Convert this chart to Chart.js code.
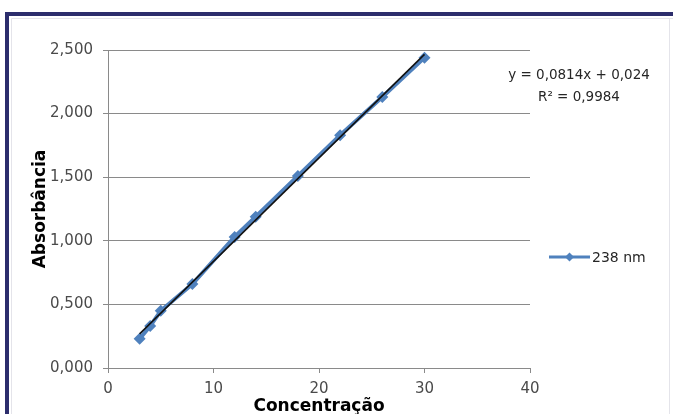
<!DOCTYPE html>
<html>
<head>
<meta charset="utf-8">
<script src="https://cdn.jsdelivr.net/npm/chart.js@4.4.0/dist/chart.umd.min.js"></script>
<style>
  html, body { margin: 0; padding: 0; background: #ffffff; }
  #wrap { width: 673px; height: 414px; position: relative; }
</style>
</head>
<body>
<div id="wrap"><canvas id="c" width="673" height="414"></canvas></div>
<script>
// Calibration curve: absorbance at 238 nm versus concentration
const concentracao = [3, 4, 5, 8, 12, 14, 18, 22, 26, 30];
const absorbancia  = [0.23, 0.33, 0.45, 0.66, 1.03, 1.19, 1.51, 1.83, 2.13, 2.44];
const seriesLabel  = '238 nm';

// Linear trend line reported for the series
const slope = 0.0814;
const intercept = 0.024;
const rSquared = 0.9984;
const trendFrom = 3;
const trendTo = 30;

// Axis ticks
const xTicks = [0, 10, 20, 30, 40];
const yTicks = [0, 0.5, 1.0, 1.5, 2.0, 2.5];

const fmt = (v, d) => v.toFixed(d).replace('.', ',');

const seriesColor = '#4F81BD';
const gridColor = '#8a8a8a';
const tickColor = '#4a4a4a';
Chart.defaults.font.family = "'DejaVu Sans', sans-serif";

const points = concentracao.map((x, i) => ({ x: x, y: absorbancia[i] }));
const trendPoints = [trendFrom, trendTo].map(x => ({ x: x, y: slope * x + intercept }));

// Frame, regression equation and legend drawn around the plot
const decor = {
  id: 'decor',
  beforeDraw(chart) {
    const ctx = chart.ctx;
    ctx.save();
    ctx.fillStyle = '#ffffff';
    ctx.fillRect(0, 0, chart.width, chart.height);
    ctx.fillStyle = '#2c2d6c';
    ctx.fillRect(5, 12, chart.width - 5, 4);
    ctx.fillRect(5, 12, 4, chart.height - 12);
    ctx.strokeStyle = '#e4e4ea';
    ctx.lineWidth = 1;
    ctx.beginPath();
    ctx.moveTo(11.5, chart.height);
    ctx.lineTo(11.5, 18.5);
    ctx.lineTo(chart.width, 18.5);
    ctx.moveTo(669.5, 18.5);
    ctx.lineTo(669.5, chart.height);
    ctx.stroke();
    ctx.restore();
  },
  afterDraw(chart) {
    const ctx = chart.ctx;
    ctx.save();
    // regression equation
    ctx.fillStyle = '#262626';
    ctx.font = "13.5px 'DejaVu Sans'";
    ctx.textAlign = 'center';
    ctx.textBaseline = 'middle';
    ctx.fillText('y = ' + fmt(slope, 4) + 'x + ' + fmt(intercept, 3), 579, 75);
    ctx.fillText('R\u00B2 = ' + fmt(rSquared, 4), 579, 97);
    // legend
    const ly = 257;
    ctx.strokeStyle = seriesColor;
    ctx.lineWidth = 3;
    ctx.beginPath();
    ctx.moveTo(549, ly);
    ctx.lineTo(590, ly);
    ctx.stroke();
    ctx.fillStyle = seriesColor;
    ctx.beginPath();
    ctx.moveTo(569.5, ly - 4.5);
    ctx.lineTo(574, ly);
    ctx.lineTo(569.5, ly + 4.5);
    ctx.lineTo(565, ly);
    ctx.closePath();
    ctx.fill();
    ctx.fillStyle = '#262626';
    ctx.font = "14px 'DejaVu Sans'";
    ctx.textAlign = 'left';
    ctx.fillText(seriesLabel, 592, ly + 1);
    ctx.restore();
  }
};

new Chart(document.getElementById('c'), {
  type: 'scatter',
  data: {
    datasets: [
      {
        label: seriesLabel,
        data: points,
        showLine: true,
        borderColor: seriesColor,
        backgroundColor: seriesColor,
        borderWidth: 4,
        pointStyle: 'rectRot',
        pointRadius: 6,
        pointBorderWidth: 0,
        order: 2
      },
      {
        label: 'Linear',
        data: trendPoints,
        showLine: true,
        borderColor: '#111111',
        borderWidth: 1.6,
        pointRadius: 0,
        order: 1
      }
    ]
  },
  options: {
    responsive: false,
    animation: false,
    devicePixelRatio: 1,
    layout: { padding: { left: 0, right: 143, top: 50, bottom: 0 } },
    plugins: {
      legend: { display: false },
      tooltip: { enabled: false }
    },
    scales: {
      x: {
        type: 'linear',
        min: xTicks[0],
        max: xTicks[xTicks.length - 1],
        afterBuildTicks(scale) { scale.ticks = xTicks.map(v => ({ value: v })); },
        afterFit(scale) { scale.height = 46; },
        border: { display: true, color: gridColor, width: 1 },
        grid: { drawOnChartArea: false, drawTicks: true, tickLength: 5, color: gridColor },
        ticks: {
          color: tickColor,
          font: { size: 15 },
          padding: 7,
          callback: v => String(v)
        },
        title: {
          display: true,
          text: 'Concentração',
          color: '#000000',
          font: { size: 17, weight: 'bold' },
          padding: { top: 0, bottom: -3 }
        }
      },
      y: {
        type: 'linear',
        min: yTicks[0],
        max: yTicks[yTicks.length - 1],
        afterBuildTicks(scale) { scale.ticks = yTicks.map(v => ({ value: v })); },
        afterFit(scale) { scale.width = 108; },
        border: { display: true, color: gridColor, width: 1 },
        grid: { drawOnChartArea: true, drawTicks: true, tickLength: 5, color: gridColor },
        ticks: {
          color: tickColor,
          font: { size: 15 },
          padding: 10,
          callback: v => fmt(v, 3)
        },
        title: {
          display: true,
          text: 'Absorbância',
          color: '#000000',
          font: { size: 17, weight: 'bold' },
          padding: { top: 30, bottom: 0 }
        }
      }
    }
  },
  plugins: [decor]
});
</script>
</body>
</html>
